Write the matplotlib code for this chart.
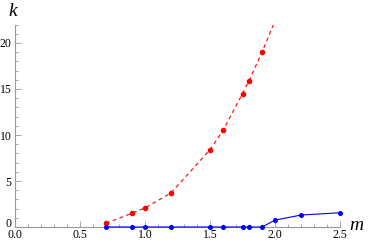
import matplotlib.pyplot as plt
from matplotlib.ticker import MultipleLocator, FormatStrFormatter

# valores
m_rojo = [0.7, 0.9, 1.0, 1.2, 1.5, 1.6, 1.75, 1.8, 1.9]
k_rojo = [0.4, 1.5, 2.07, 3.7, 8.4, 10.5, 14.5, 15.9, 19.0]

# curva discontinua (sigue hasta salir por arriba)
m_curva = [0.7, 0.9, 1.0, 1.2, 1.5, 1.6, 1.75, 1.8, 1.9, 2.0]
k_curva = [0.4, 1.5, 2.07, 3.7, 8.4, 10.5, 14.5, 15.9, 19.0, 22.4]

m_azul = [0.7, 0.9, 1.0, 1.2, 1.5, 1.6, 1.75, 1.8, 1.9, 2.0, 2.2, 2.5]
k_azul = [0.0, 0.0, 0.0, 0.0, 0.0, 0.0, 0.0, 0.0, 0.0, 0.75, 1.3, 1.55]

plt.rcParams['font.family'] = ['Liberation Serif', 'DejaVu Serif']

fig = plt.figure(figsize=(3.74, 2.42), dpi=100)
ax = fig.add_axes([15 / 374, 1 - 227 / 242, 325 / 374, 202.4 / 242])

gris = '#999999'

ax.plot(m_curva, k_curva, '--', color='#ff0000', linewidth=0.8, dashes=(3.5, 3))
ax.plot(m_rojo, k_rojo, 'o', color='#ff0000', markersize=3.0, clip_on=False, zorder=4)
ax.plot(m_azul, k_azul, '-', color='#0000ff', linewidth=0.8, clip_on=False, zorder=3)
ax.plot(m_azul, k_azul, 'o', color='#0000ff', markersize=2.6, clip_on=False, zorder=4)

ax.set_xlim(0, 2.5)
ax.set_ylim(0, 22)

for lado in ['top', 'right']:
    ax.spines[lado].set_visible(False)
for lado in ['left', 'bottom']:
    ax.spines[lado].set_color(gris)
    ax.spines[lado].set_linewidth(0.8)

ax.xaxis.set_major_locator(MultipleLocator(0.5))
ax.xaxis.set_minor_locator(MultipleLocator(0.1))
ax.yaxis.set_major_locator(MultipleLocator(5))
ax.yaxis.set_minor_locator(MultipleLocator(1))
ax.xaxis.set_major_formatter(FormatStrFormatter('%.1f'))

ax.tick_params(which='both', direction='in', color=gris, width=0.6, labelsize=8.5)
ax.tick_params(axis='x', pad=1.8)
ax.tick_params(axis='y', pad=2.5)
ax.tick_params(which='major', length=4)
ax.tick_params(which='minor', length=2.2)

fig.text(13 / 374, 1 - 12 / 242, 'k', fontsize=14, style='italic', ha='center', va='center')
fig.text(356 / 374, 1 - 226 / 242, 'm', fontsize=14, style='italic', ha='center', va='center')

# el "0" del eje y choca con el "0.0": solo ese se apoya sobre la linea base
fig.canvas.draw()
for tick in ax.yaxis.get_major_ticks():
    if abs(tick.get_loc()) < 1e-9:
        tick.label1.set_verticalalignment('baseline')

fig.savefig('out.png', dpi=100)
